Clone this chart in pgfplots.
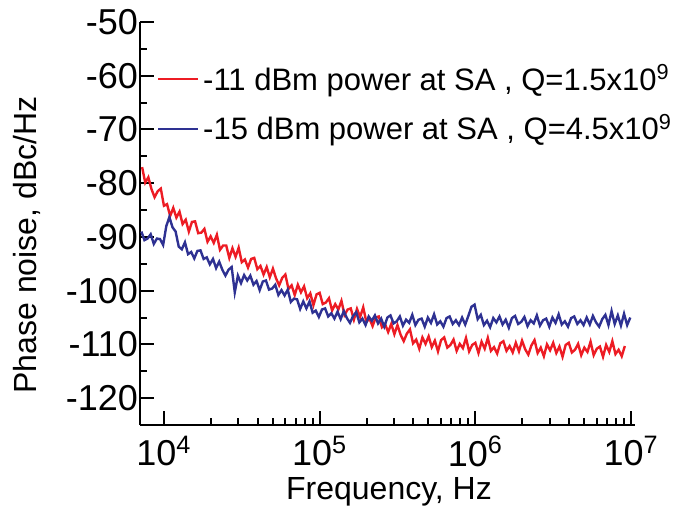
\documentclass[border=0pt]{standalone}
\usepackage{fontspec}
\setmainfont{Liberation Sans}
\usepackage{pgfplots}
\usepackage{pgfplotstable}
\pgfplotsset{compat=1.18}
\definecolor{cred}{RGB}{237,28,36}
\definecolor{cblue}{RGB}{46,49,146}
\pgfplotstableread{
lx y
3.86 -77.0
3.88 -79.9
3.90 -78.9
3.92 -81.1
3.94 -82.6
3.96 -81.5
3.98 -81.0
4.00 -84.2
4.02 -83.9
4.04 -86.1
4.06 -84.6
4.08 -86.4
4.10 -85.3
4.12 -87.6
4.14 -86.8
4.16 -89.0
4.18 -87.2
4.20 -87.1
4.22 -89.3
4.24 -89.2
4.26 -88.5
4.28 -90.9
4.30 -89.9
4.32 -91.1
4.34 -89.6
4.36 -92.4
4.38 -91.6
4.40 -91.6
4.42 -93.9
4.44 -92.1
4.46 -93.7
4.48 -92.0
4.50 -94.7
4.52 -94.2
4.54 -95.7
4.56 -94.1
4.58 -93.9
4.60 -96.0
4.62 -95.4
4.64 -97.0
4.66 -95.6
4.68 -97.5
4.70 -95.9
4.72 -97.7
4.74 -99.0
4.76 -97.6
4.78 -97.0
4.80 -99.7
4.82 -99.0
4.84 -100.8
4.86 -98.9
4.88 -100.3
4.90 -99.2
4.92 -101.4
4.94 -100.5
4.96 -102.7
4.98 -100.7
5.00 -100.4
5.02 -102.5
5.04 -102.2
5.06 -101.4
5.08 -103.7
5.10 -102.5
5.12 -103.5
5.14 -101.9
5.16 -104.5
5.18 -103.5
5.20 -103.3
5.22 -105.4
5.24 -103.4
5.26 -104.9
5.28 -103.1
5.30 -105.8
5.32 -105.2
5.34 -106.6
5.36 -105.0
5.38 -104.8
5.40 -106.8
5.42 -106.2
5.44 -107.7
5.46 -106.2
5.48 -108.1
5.50 -106.4
5.52 -108.2
5.54 -109.4
5.56 -108.0
5.58 -107.2
5.60 -109.8
5.62 -109.1
5.64 -110.8
5.66 -108.7
5.68 -109.9
5.70 -108.5
5.72 -110.5
5.74 -109.3
5.76 -111.3
5.78 -109.2
5.80 -108.7
5.82 -110.6
5.84 -110.1
5.86 -109.1
5.88 -111.2
5.90 -109.9
5.92 -110.7
5.94 -108.8
5.96 -111.3
5.98 -110.1
6.00 -109.7
6.02 -111.6
6.04 -109.5
6.06 -110.8
6.08 -108.8
6.10 -111.2
6.12 -110.5
6.14 -111.7
6.16 -109.8
6.18 -109.4
6.20 -111.2
6.22 -110.3
6.24 -111.5
6.26 -109.7
6.28 -111.3
6.30 -109.3
6.32 -110.9
6.34 -111.9
6.36 -110.2
6.38 -109.2
6.40 -111.6
6.42 -110.6
6.44 -112.2
6.46 -110.0
6.48 -111.1
6.50 -109.7
6.52 -111.6
6.54 -110.4
6.56 -112.3
6.58 -110.1
6.60 -109.7
6.62 -111.5
6.64 -111.0
6.66 -109.9
6.68 -112.0
6.70 -110.6
6.72 -111.4
6.74 -109.5
6.76 -112.0
6.78 -110.8
6.80 -110.4
6.82 -112.3
6.84 -110.1
6.86 -111.4
6.88 -109.4
6.90 -111.8
6.92 -111.0
6.94 -112.2
6.96 -110.3
}\redtable
\pgfplotstableread{
lx y
3.855 -89.0
3.875 -90.6
3.895 -90.3
3.915 -89.5
3.935 -91.3
3.955 -90.3
3.975 -90.4
3.995 -91.5
4.015 -88.0
4.035 -86.3
4.055 -88.2
4.075 -89.0
4.095 -91.8
4.115 -92.3
4.135 -91.0
4.155 -93.2
4.175 -92.8
4.195 -94.0
4.215 -92.6
4.235 -92.5
4.255 -94.1
4.275 -93.8
4.295 -95.1
4.315 -94.1
4.335 -95.8
4.355 -94.6
4.375 -96.1
4.395 -97.2
4.415 -96.1
4.435 -95.6
4.455 -100.3
4.475 -97.2
4.495 -98.6
4.515 -97.1
4.535 -98.1
4.555 -97.2
4.575 -98.9
4.595 -98.2
4.615 -99.9
4.635 -98.3
4.655 -98.1
4.675 -99.8
4.695 -99.6
4.715 -98.9
4.735 -100.8
4.755 -99.9
4.775 -100.9
4.795 -99.8
4.815 -102.1
4.835 -101.5
4.855 -101.6
4.875 -103.4
4.895 -102.0
4.915 -103.3
4.935 -102.0
4.955 -104.1
4.975 -103.7
4.995 -104.9
5.015 -103.5
5.035 -103.3
5.055 -104.8
5.075 -104.2
5.095 -105.2
5.115 -103.9
5.135 -105.3
5.155 -103.8
5.175 -105.1
5.195 -106.0
5.215 -104.7
5.235 -104.0
5.255 -105.9
5.275 -105.2
5.295 -106.4
5.315 -104.8
5.335 -105.6
5.355 -104.6
5.375 -106.1
5.395 -105.2
5.415 -106.7
5.435 -105.0
5.455 -104.6
5.475 -106.1
5.495 -105.7
5.515 -104.8
5.535 -106.5
5.555 -105.4
5.575 -106.0
5.595 -104.5
5.615 -106.4
5.635 -105.4
5.655 -105.2
5.675 -106.7
5.695 -105.0
5.715 -106.0
5.735 -104.4
5.755 -106.3
5.775 -105.7
5.795 -106.7
5.815 -105.1
5.835 -104.8
5.855 -106.2
5.875 -105.5
5.895 -106.4
5.915 -105.0
5.935 -106.3
5.955 -104.7
5.975 -103.0
5.995 -102.6
6.015 -105.3
6.035 -104.5
6.055 -106.4
6.075 -105.6
6.095 -106.8
6.115 -105.1
6.135 -105.9
6.155 -104.8
6.175 -106.3
6.195 -105.4
6.215 -106.9
6.235 -105.1
6.255 -104.7
6.275 -106.2
6.295 -105.8
6.315 -104.9
6.335 -106.6
6.355 -105.5
6.375 -106.1
6.395 -104.6
6.415 -106.5
6.435 -105.5
6.455 -105.2
6.475 -106.7
6.495 -105.0
6.515 -106.0
6.535 -104.4
6.555 -106.3
6.575 -105.7
6.595 -106.7
6.615 -105.1
6.635 -104.8
6.655 -106.2
6.675 -105.5
6.695 -106.4
6.715 -105.0
6.735 -106.3
6.755 -104.7
6.775 -105.9
6.795 -106.7
6.815 -105.3
6.835 -104.5
6.855 -106.4
6.875 -103.8
6.895 -106.2
6.915 -104.6
6.935 -106.5
6.955 -104.3
6.975 -106.4
6.995 -105.0
}\bluetable
\begin{document}
\begin{tikzpicture}
\useasboundingbox (-70pt,-51pt) rectangle (268pt,212.5pt);
\begin{axis}[
  at={(0,0)}, anchor=south west,
  scale only axis,
  width=247.5pt, height=201.5pt,
  xmode=log,
  xmin=7.02e3, xmax=1.06e7,
  ymin=-125, ymax=-50,
  axis x line=bottom, axis y line=left,
  axis line style={line width=1.4pt, -},
  tick align=inside,
  major tick length=7pt, minor tick length=3.5pt,
  every tick/.style={line width=1pt, black},
  xtick={1e4,1e5,1e6,1e7},
  xticklabels={10\textsuperscript{4},10\textsuperscript{5},10\textsuperscript{6},10\textsuperscript{7}},
  ytick={-120,-110,-100,-90,-80,-70,-60,-50},
  minor ytick={-115,-105,-95,-85,-75,-65,-55},
  /pgf/number format/assume math mode=true,
  ticklabel style={font=\fontsize{18}{21}\selectfont},
  xticklabel style={yshift=-2pt},
  yticklabel style={xshift=2.5pt},
  xlabel={Frequency, Hz},
  ylabel={Phase noise, dBc/Hz},
  label style={font=\fontsize{16}{19}\selectfont},
  xlabel style={at={(axis description cs:0.503,-0.165)}, anchor=center},
  ylabel style={at={(axis description cs:-0.228,0.447)}, anchor=center},
  legend style={draw=none, fill=none, at={(axis description cs:0.034,0.905)}, anchor=north west,
    font=\fontsize{15.5}{18}\selectfont, row sep=6.5pt, inner sep=0pt,
    /tikz/every even column/.append style={column sep=5pt}},
  legend cell align=left,
  legend image code/.code={\draw[#1, line width=1pt] (0pt,0pt) -- (20pt,0pt);},
]
\addplot[cred, line width=1.2pt] table[x expr=10^\thisrow{lx}, y=y] {\redtable};
\addlegendentry{-11 dBm power at SA , Q=1.5x10\textsuperscript{9}}
\addplot[cblue, line width=1.2pt] table[x expr=10^\thisrow{lx}, y=y] {\bluetable};
\addlegendentry{-15 dBm power at SA , Q=4.5x10\textsuperscript{9}}
\end{axis}
\end{tikzpicture}
\end{document}
